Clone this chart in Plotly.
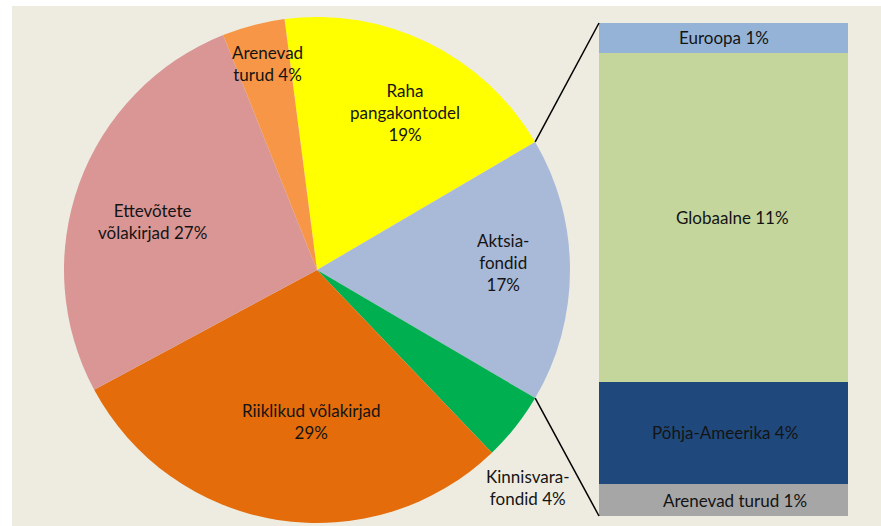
import math
import plotly.graph_objects as go

# ---------------- data ----------------
pie_labels = ["Raha pangakontodel", "Aktsiafondid", "Kinnisvarafondid",
              "Riiklikud võlakirjad", "Ettevõtete võlakirjad", "Arenevad turud"]
pie_values = [18.6, 16.9, 4.4, 29.3, 26.8, 4.0]
pie_text = ["Raha<br>pangakontodel<br>19%", "Aktsia-<br>fondid<br>17%", "Kinnisvara-<br>fondid 4%",
            "Riiklikud võlakirjad<br>29%", "Ettevõtete<br>võlakirjad 27%", "Arenevad<br>turud 4%"]

bar_labels = ["Arenevad turud", "Põhja-Ameerika", "Globaalne", "Euroopa"]   # bottom -> top
bar_values = [1.09, 3.52, 11.27, 1.02]
bar_text = ["Arenevad turud 1%", "Põhja-Ameerika 4%", "Globaalne 11%", "Euroopa 1%"]

split_index = 1  # the pie slice broken out into the bar

# ---------------- style ----------------
pie_colors = ["#FFFF00", "#A9B9D8", "#00B050", "#E46C0A", "#DA9694", "#F79646"]
bar_colors = ["#A6A6A6", "#1F497D", "#C4D69C", "#95B3D7"]
label_r = [0.713, 0.735, 1.196, 0.60, 0.68, 0.84]
label_dang = [3.1, -2.3, 7.5, -7.1, -3.5, 1.0]
bar_label_xshift = [11, 1, 9, 0]
BG = "#EEECE1"
FONT = "Lato"
FS = 17
TXT = "#141414"

W, H = 881, 526
ML, MT = 12, 6
PW, PH = W - ML, H - MT
PIE_CX, PIE_CY, PIE_R = 317, 270, 253
BAR_X0, BAR_X1, BAR_Y0, BAR_Y1 = 599, 848, 23, 516


def px2paper(px, py):
    return (px - ML) / PW, (H - py) / PH


total = sum(pie_values)
# rotate so that the split slice is centred at 3 o'clock
before = sum(pie_values[:split_index])
rotation = 90 - (before + pie_values[split_index] / 2) / total * 360

dx0, dy0 = px2paper(PIE_CX - PIE_R, PIE_CY + PIE_R)
dx1, dy1 = px2paper(PIE_CX + PIE_R, PIE_CY - PIE_R)

fig = go.Figure()
fig.add_trace(go.Pie(
    labels=pie_labels, values=pie_values, sort=False, direction="clockwise",
    rotation=rotation, marker=dict(colors=pie_colors, line=dict(width=0)),
    textinfo="none", hoverinfo="skip", showlegend=False,
    domain=dict(x=[dx0, dx1], y=[dy0, dy1]),
))

bx0, by0 = px2paper(BAR_X0, BAR_Y1)
bx1, by1 = px2paper(BAR_X1, BAR_Y0)
annotations = []
cum_bar = 0
for i, (lab, val, txt, col) in enumerate(zip(bar_labels, bar_values, bar_text, bar_colors)):
    fig.add_trace(go.Bar(
        x=[0], y=[val], name=lab,
        marker=dict(color=col, line=dict(width=0)), width=1,
        hoverinfo="skip", showlegend=False, xaxis="x", yaxis="y",
    ))
    annotations.append(dict(
        x=0, y=cum_bar + val / 2, xref="x", yref="y", text=txt, showarrow=False,
        xanchor="center", yanchor="middle", xshift=bar_label_xshift[i],
        font=dict(family=FONT, size=FS, color=TXT),
    ))
    cum_bar += val

# pie labels
cum = 0
angles = []
for i, v in enumerate(pie_values):
    a0 = rotation + cum / total * 360
    cum += v
    a1 = rotation + cum / total * 360
    angles.append((a0, a1))
    mid = math.radians((a0 + a1) / 2 + label_dang[i])
    lx = PIE_CX + label_r[i] * PIE_R * math.sin(mid)
    ly = PIE_CY - label_r[i] * PIE_R * math.cos(mid)
    ax, ay = px2paper(lx, ly)
    annotations.append(dict(
        x=ax, y=ay, xref="paper", yref="paper", text=pie_text[i], showarrow=False,
        xanchor="center", yanchor="middle", align="center",
        font=dict(family=FONT, size=FS, color=TXT),
    ))

# background + connector lines
shapes = [dict(type="rect", xref="paper", yref="paper", x0=0, y0=0, x1=1, y1=1,
               fillcolor=BG, line=dict(width=0), layer="below")]
s0, s1 = angles[split_index]
for ang, (tx, ty) in [(s0, (BAR_X0, BAR_Y0)), (s1, (BAR_X0, BAR_Y1))]:
    t = math.radians(ang)
    sx = PIE_CX + PIE_R * math.sin(t)
    sy = PIE_CY - PIE_R * math.cos(t)
    p0 = px2paper(sx, sy)
    p1 = px2paper(tx, ty)
    shapes.append(dict(type="line", xref="paper", yref="paper",
                       x0=p0[0], y0=p0[1], x1=p1[0], y1=p1[1],
                       line=dict(color="black", width=1.5)))

fig.update_layout(
    width=W, height=H, margin=dict(l=ML, r=0, t=MT, b=0, pad=0),
    paper_bgcolor="white", plot_bgcolor=BG, barmode="stack", bargap=0,
    xaxis=dict(domain=[bx0, bx1], range=[-0.5, 0.5], visible=False, fixedrange=True),
    yaxis=dict(domain=[by0, by1], range=[0, sum(bar_values)], visible=False, fixedrange=True),
    shapes=shapes, annotations=annotations,
    font=dict(family=FONT, size=FS, color=TXT),
)

fig.write_html("out.html")
